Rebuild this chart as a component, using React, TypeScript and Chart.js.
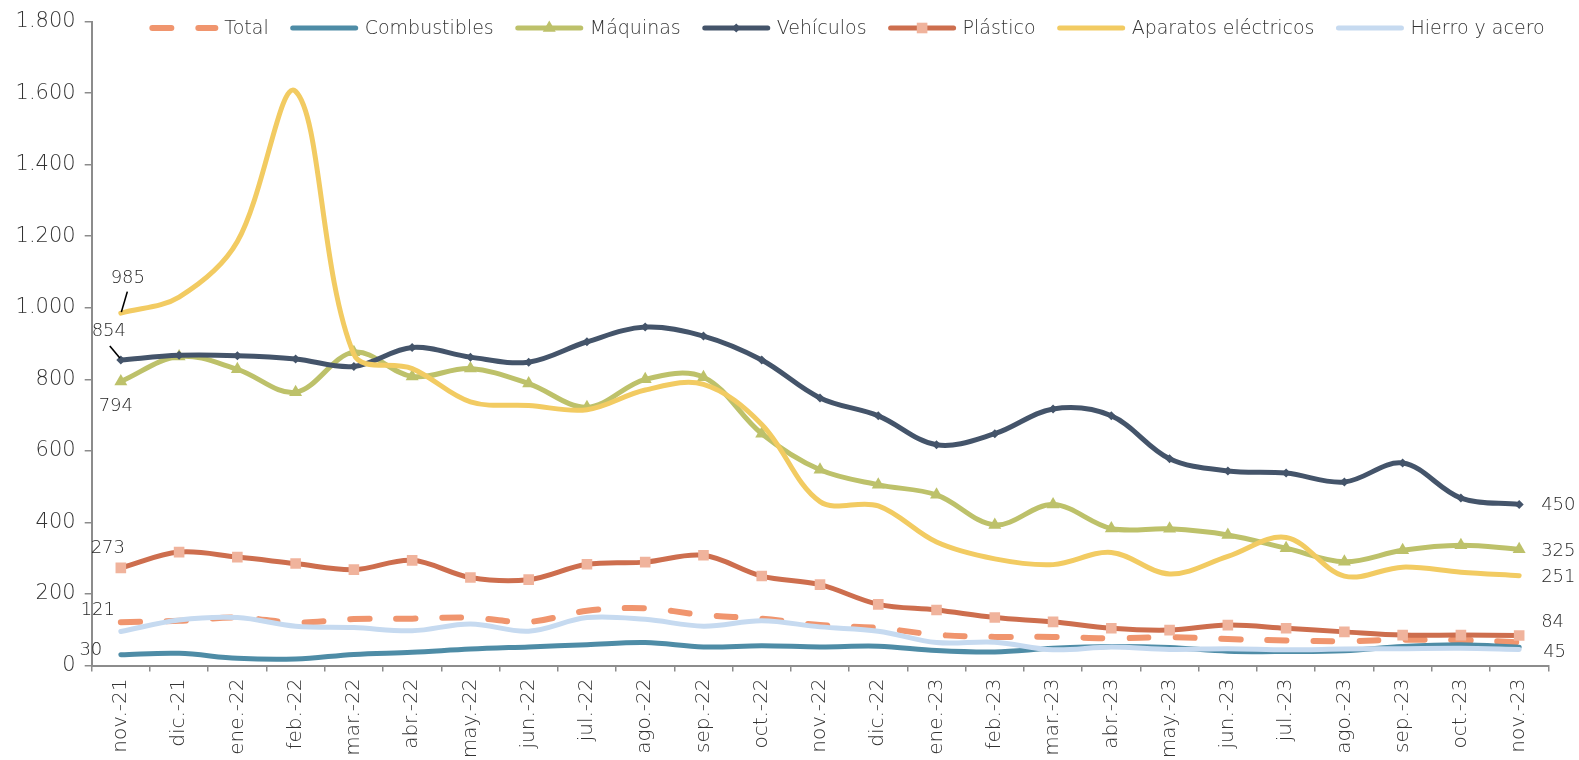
import React, { useEffect, useRef } from "react";
import { Chart, registerables } from "chart.js";

Chart.register(...registerables);

// ---------- DATA ----------
const categories = [
  "nov.-21", "dic.-21", "ene.-22", "feb.-22", "mar.-22", "abr.-22", "may.-22", "jun.-22",
  "jul.-22", "ago.-22", "sep.-22", "oct.-22", "nov.-22", "dic.-22", "ene.-23", "feb.-23",
  "mar.-23", "abr.-23", "may.-23", "jun.-23", "jul.-23", "ago.-23", "sep.-23", "oct.-23", "nov.-23",
];

const total = [121, 125, 134, 120, 130, 131, 134, 122, 153, 160, 141, 131, 113, 105, 86, 80, 80, 76, 79, 74, 70, 68, 72, 71, 65];
const combustibles = [30, 34, 20, 18, 31, 37, 46, 52, 58, 64, 52, 55, 52, 54, 42, 38, 48, 53, 50, 40, 39, 41, 53, 58, 51];
const maquinas = [794, 864, 828, 764, 876, 808, 830, 788, 722, 800, 806, 648, 547, 505, 477, 393, 450, 383, 382, 365, 328, 290, 322, 336, 325];
const vehiculos = [854, 867, 866, 857, 836, 889, 862, 848, 905, 946, 921, 854, 748, 698, 617, 648, 717, 698, 578, 544, 538, 513, 566, 468, 450];
const plastico = [273, 317, 303, 285, 268, 294, 246, 240, 283, 289, 308, 250, 226, 171, 155, 134, 122, 104, 99, 113, 104, 94, 85, 85, 84];
const aparatos = [985, 1030, 1185, 1605, 870, 830, 737, 727, 715, 770, 786, 674, 458, 446, 345, 298, 282, 316, 256, 305, 358, 250, 275, 261, 251];
const hierro = [95, 127, 134, 110, 106, 97, 116, 96, 134, 129, 110, 125, 108, 96, 64, 65, 44, 52, 45, 47, 44, 46, 47, 48, 45];

const seriesNames = ["Total", "Combustibles", "Máquinas", "Vehículos", "Plástico", "Aparatos eléctricos", "Hierro y acero"];

const yMin = 0;
const yMax = 1800;
const yStep = 200;

// ---------- STYLE ----------
const FONT = "'DejaVu Sans', 'Open Sans', sans-serif";
const W = "200";
const TEXT = "#333333";
const AXIS = "#8c8c8c";

const fmt = (v: number) => String(Math.round(v)).replace(/\B(?=(\d{3})+(?!\d))/g, ".");

type LabelSpec = { ds: number; i: number; dx: number; dy: number; align: CanvasTextAlign; leader?: [number, number, number, number] };
const dataLabels: LabelSpec[] = [
  { ds: 5, i: 0, dx: 7, dy: -35, align: "center", leader: [6.5, -21.5, 0.5, -1] },
  { ds: 3, i: 0, dx: -12, dy: -29, align: "center", leader: [-11, -14, -1, -2] },
  { ds: 2, i: 0, dx: -5, dy: 25, align: "center" },
  { ds: 4, i: 0, dx: -13, dy: -20, align: "center" },
  { ds: 0, i: 0, dx: -23, dy: -12, align: "center" },
  { ds: 1, i: 0, dx: -30, dy: -4, align: "center" },
  { ds: 3, i: 24, dx: 22, dy: 1, align: "left" },
  { ds: 2, i: 24, dx: 22, dy: 2, align: "left" },
  { ds: 5, i: 24, dx: 22, dy: 1.5, align: "left" },
  { ds: 4, i: 24, dx: 22, dy: -13, align: "left" },
  { ds: 6, i: 24, dx: 24, dy: 2.5, align: "left" },
];

function drawMarker(ctx: CanvasRenderingContext2D, style: string, r: number, x: number, y: number, color: string) {
  ctx.save();
  ctx.fillStyle = color;
  ctx.beginPath();
  if (style === "triangle") {
    ctx.moveTo(x, y - r);
    ctx.lineTo(x + r * Math.sin((2 * Math.PI) / 3), y - r * Math.cos((2 * Math.PI) / 3));
    ctx.lineTo(x + r * Math.sin((4 * Math.PI) / 3), y - r * Math.cos((4 * Math.PI) / 3));
    ctx.closePath();
  } else if (style === "rectRot") {
    ctx.moveTo(x, y - r);
    ctx.lineTo(x + r, y);
    ctx.lineTo(x, y + r);
    ctx.lineTo(x - r, y);
    ctx.closePath();
  } else if (style === "rect") {
    const s = Math.SQRT1_2 * r;
    ctx.rect(x - s, y - s, 2 * s, 2 * s);
  }
  ctx.fill();
  ctx.restore();
}

const legendPlugin = {
  id: "customLegend",
  afterDraw(chart: any) {
    const ctx: CanvasRenderingContext2D = chart.ctx;
    ctx.save();
    ctx.font = `${W} 19px ${FONT}`;
    const sampleW = 69;
    const gapText = 6;
    const gapItem = 21;
    const dss = chart.data.datasets;
    const widths = dss.map((d: any) => ctx.measureText(d.label).width);
    const totalW = widths.reduce((s: number, w: number) => s + sampleW + gapText + w, 0) + gapItem * (dss.length - 1);
    let x = 847 - totalW / 2;
    const y = 28;
    dss.forEach((d: any, k: number) => {
      ctx.save();
      ctx.strokeStyle = d.borderColor;
      ctx.lineWidth = d.borderWidth;
      ctx.lineCap = "round";
      ctx.setLineDash(d.borderDash || []);
      ctx.beginPath();
      ctx.moveTo(x + 3, y);
      ctx.lineTo(x + sampleW - 3, y);
      ctx.stroke();
      ctx.restore();
      if (d.pointRadius > 0 && d.pointStyle) {
        drawMarker(ctx, d.pointStyle, d.pointRadius, x + sampleW / 2, y, d.pointBackgroundColor);
      }
      ctx.fillStyle = TEXT;
      ctx.textBaseline = "middle";
      ctx.textAlign = "left";
      ctx.fillText(d.label, x + sampleW + gapText, y + 1);
      x += sampleW + gapText + widths[k] + gapItem;
    });
    ctx.restore();
  },
};

const labelPlugin = {
  id: "pointLabels",
  afterDatasetsDraw(chart: any) {
    const ctx: CanvasRenderingContext2D = chart.ctx;
    ctx.save();
    ctx.font = `${W} 18px ${FONT}`;
    ctx.fillStyle = "#262626";
    ctx.textBaseline = "middle";
    dataLabels.forEach((l) => {
      const meta = chart.getDatasetMeta(l.ds);
      const pt = meta.data[l.i];
      if (!pt) return;
      const v = chart.data.datasets[l.ds].data[l.i];
      ctx.textAlign = l.align;
      ctx.fillText(fmt(v), pt.x + l.dx, pt.y + l.dy);
      if (l.leader) {
        ctx.save();
        ctx.strokeStyle = "#000";
        ctx.lineWidth = 1.6;
        ctx.beginPath();
        ctx.moveTo(pt.x + l.leader[0], pt.y + l.leader[1]);
        ctx.lineTo(pt.x + l.leader[2], pt.y + l.leader[3]);
        ctx.stroke();
        ctx.restore();
      }
    });
    ctx.restore();
  },
};

export default function App() {
  const ref = useRef<HTMLCanvasElement | null>(null);

  useEffect(() => {
    if (!ref.current) return;
    const common = { tension: 0.35, borderWidth: 5, borderCapStyle: "round", borderJoinStyle: "round", pointBorderWidth: 0, pointHoverRadius: 0 };
    const chart = new Chart(ref.current, {
      type: "line",
      data: {
        labels: categories,
        datasets: [
          { ...common, label: seriesNames[0], data: total, borderColor: "#F0956E", backgroundColor: "#F0956E", borderWidth: 6, borderDash: [19, 27], pointRadius: 0, order: 7 },
          { ...common, label: seriesNames[1], data: combustibles, borderColor: "#4E8CA6", backgroundColor: "#4E8CA6", pointRadius: 0, order: 6 },
          { ...common, label: seriesNames[2], data: maquinas, borderColor: "#BDC16A", backgroundColor: "#BDC16A", pointStyle: "triangle", pointRadius: 7.5, pointBackgroundColor: "#BDC16A", order: 5 },
          { ...common, label: seriesNames[3], data: vehiculos, borderColor: "#44546A", backgroundColor: "#44546A", pointStyle: "rectRot", pointRadius: 4.5, pointBackgroundColor: "#44546A", order: 4 },
          { ...common, label: seriesNames[4], data: plastico, borderColor: "#CD6E4E", backgroundColor: "#CD6E4E", pointStyle: "rect", pointRadius: 7.5, pointBackgroundColor: "#F0B39C", order: 3 },
          { ...common, label: seriesNames[5], data: aparatos, borderColor: "#F2CB62", backgroundColor: "#F2CB62", pointRadius: 0, order: 2 },
          { ...common, label: seriesNames[6], data: hierro, borderColor: "#C6DAF0", backgroundColor: "#C6DAF0", pointRadius: 0, order: 1 },
        ] as any,
      },
      options: {
        animation: false,
        responsive: false,
        maintainAspectRatio: false,
        layout: { padding: { top: 20, right: 30.7, left: 0, bottom: 0 } },
        plugins: { legend: { display: false }, tooltip: { enabled: false } },
        scales: {
          x: {
            type: "category",
            offset: true,
            afterFit: (s: any) => { s.height = 760 - 665.5; },
            grid: { offset: true, drawOnChartArea: false, drawTicks: true, tickLength: 6, color: AXIS, lineWidth: 1.5 },
            border: { display: true, color: AXIS, width: 2 },
            ticks: { autoSkip: false, maxRotation: 90, minRotation: 90, padding: 7, color: TEXT, font: { family: FONT, size: 20, weight: W } },
          },
          y: {
            min: yMin,
            max: yMax,
            afterFit: (s: any) => { s.width = 91.7; },
            grid: { drawOnChartArea: false, drawTicks: true, tickLength: 7, color: AXIS, lineWidth: 1.5 },
            border: { display: true, color: AXIS, width: 2 },
            ticks: { stepSize: yStep, padding: 9, color: TEXT, font: { family: FONT, size: 21, weight: W }, callback: (v: any) => fmt(Number(v)) },
          },
        },
      } as any,
      plugins: [labelPlugin, legendPlugin],
    });
    return () => chart.destroy();
  }, []);

  return (
    <div style={{ position: "fixed", left: 0, top: 0, width: 1579, height: 760, background: "#fff", overflow: "hidden" }}>
      <canvas ref={ref} width={1579} height={760} style={{ display: "block" }} />
    </div>
  );
}
